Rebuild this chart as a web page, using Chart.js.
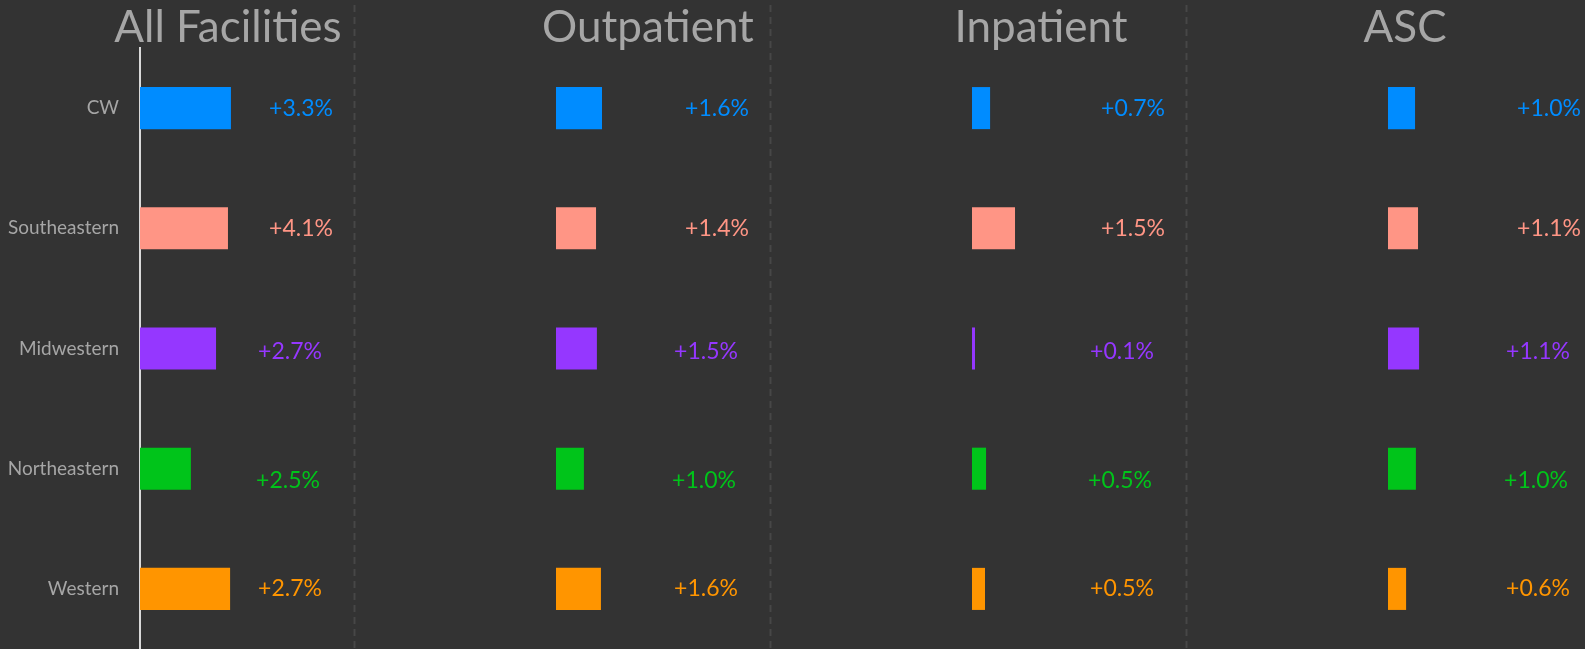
<!DOCTYPE html>
<html>
<head>
<meta charset="utf-8">
<script src="https://cdn.jsdelivr.net/npm/chart.js@4.4.1/dist/chart.umd.min.js"></script>
<style>
  html, body { margin: 0; padding: 0; background: #333333; width: 1585px; height: 649px; overflow: hidden; }
  canvas { position: absolute; top: 0; }
</style>
</head>
<body>
<canvas id="c0" width="353" height="649" style="left:0px"></canvas>
<canvas id="c1" width="416" height="649" style="left:353px"></canvas>
<canvas id="c2" width="416" height="649" style="left:769px"></canvas>
<canvas id="c3" width="416" height="649" style="left:1185px"></canvas>
<script>
// regions (rows) and panels
var regions = ['CW', 'Southeastern', 'Midwestern', 'Northeastern', 'Western'];
var panelTitles = ['All Facilities', 'Outpatient', 'Inpatient', 'ASC'];

// bar lengths (axis 0..10)
var allFacilitiesBars = [4.27, 4.13, 3.57, 2.39, 4.23];
var outpatientBars    = [2.16, 1.88, 1.92, 1.31, 2.11];
var inpatientBars     = [0.85, 2.02, 0.14, 0.66, 0.61];
var ascBars           = [1.27, 1.41, 1.46, 1.31, 0.85];

// growth labels shown next to the bars
var allFacilitiesChange = [3.3, 4.1, 2.7, 2.5, 2.7];
var outpatientChange    = [1.6, 1.4, 1.5, 1.0, 1.6];
var inpatientChange     = [0.7, 1.5, 0.1, 0.5, 0.5];
var ascChange           = [1.0, 1.1, 1.1, 1.0, 0.6];

var regionColors = ['#008CFF', '#FF9585', '#9537FF', '#00C41A', '#FF9500'];
var FONT = 'Lato, "Open Sans", sans-serif';

var panelDecor = {
  id: 'panelDecor',
  beforeDraw: function(chart, args, opts) {
    if (!opts.separator) return;
    var ctx = chart.ctx;
    ctx.save();
    ctx.strokeStyle = '#474747';
    ctx.lineWidth = 2;
    ctx.setLineDash([7, 5]);
    ctx.beginPath();
    ctx.moveTo(1.5, 5);
    ctx.lineTo(1.5, chart.height);
    ctx.stroke();
    ctx.restore();
  },
  afterDatasetsDraw: function(chart, args, opts) {
    var ctx = chart.ctx;
    var meta = chart.getDatasetMeta(0);
    ctx.save();
    ctx.font = '23px ' + FONT;
    ctx.textAlign = 'right';
    ctx.textBaseline = 'middle';
    meta.data.forEach(function(bar, i) {
      ctx.fillStyle = regionColors[i];
      var txt = '+' + opts.changes[i].toFixed(1) + '%';
      ctx.fillText(txt, chart.chartArea.right + opts.dx[i], bar.y + opts.dy[i]);
    });
    ctx.fillStyle = '#A6A6A6';
    ctx.font = '44px ' + FONT;
    ctx.textAlign = 'center';
    ctx.textBaseline = 'alphabetic';
    ctx.fillText(opts.title, opts.titleX, 42);
    ctx.restore();
  }
};

function makePanel(id, idx, bars, changes, titleX) {
  var first = idx === 0;
  var yScale = { display: false };
  if (first) {
    yScale = {
      display: true,
      afterFit: function(scale) {
        scale.width = 140;
        scale.paddingTop = 0;
        scale.paddingBottom = 0;
      },
      grid: { display: false, drawTicks: false },
      border: { display: true, color: '#D9D9D9', width: 2 },
      ticks: { color: '#A6A6A6', font: { family: FONT, size: 19 }, padding: 21 }
    };
  }
  return new Chart(document.getElementById(id), {
    type: 'bar',
    data: {
      labels: regions,
      datasets: [{
        data: bars,
        backgroundColor: regionColors,
        borderWidth: 0,
        barPercentage: 0.35,
        categoryPercentage: 1.0
      }]
    },
    options: {
      indexAxis: 'y',
      responsive: false,
      animation: false,
      layout: { padding: { top: 48, bottom: 0, left: first ? 0 : 203, right: 0 } },
      scales: {
        x: { display: false, min: 0, max: 10 },
        y: yScale
      },
      plugins: {
        legend: { display: false },
        tooltip: { enabled: false },
        panelDecor: {
          separator: !first,
          changes: changes,
          title: panelTitles[idx],
          titleX: titleX,
          dx: [-20, -20, -31, -33, -31],
          dy: [0, 0, 3, 12, 0]
        }
      }
    },
    plugins: [panelDecor]
  });
}

window.onload = function() {
  makePanel('c0', 0, allFacilitiesBars, allFacilitiesChange, 228);
  makePanel('c1', 1, outpatientBars, outpatientChange, 295);
  makePanel('c2', 2, inpatientBars, inpatientChange, 272);
  makePanel('c3', 3, ascBars, ascChange, 220);
};
</script>
</body>
</html>
